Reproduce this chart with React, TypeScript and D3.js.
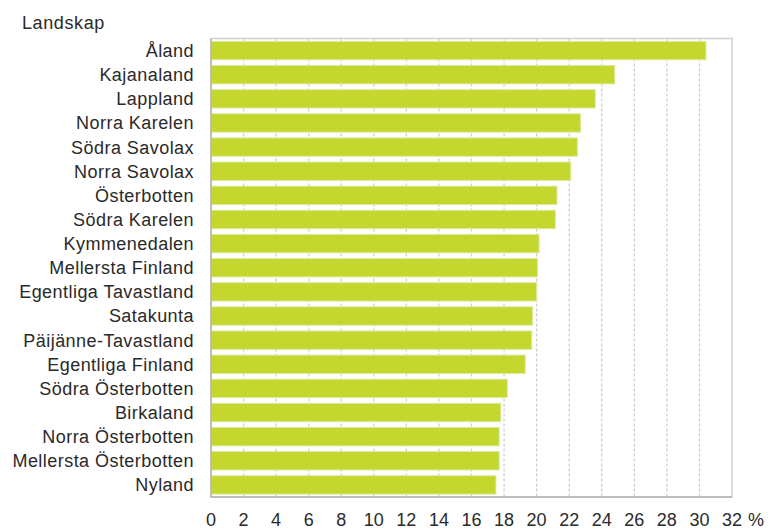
import React, { useEffect, useRef } from 'react'
import * as d3 from 'd3'

const regions = [
  'Åland', 'Kajanaland', 'Lappland', 'Norra Karelen', 'Södra Savolax', 'Norra Savolax',
  'Österbotten', 'Södra Karelen', 'Kymmenedalen', 'Mellersta Finland', 'Egentliga Tavastland',
  'Satakunta', 'Päijänne-Tavastland', 'Egentliga Finland', 'Södra Österbotten', 'Birkaland',
  'Norra Österbotten', 'Mellersta Österbotten', 'Nyland'
]
const shares = [
  30.4, 24.8, 23.6, 22.7, 22.5, 22.1,
  21.25, 21.15, 20.15, 20.05, 20.0,
  19.75, 19.7, 19.3, 18.2, 17.8,
  17.7, 17.7, 17.5
]
const xTicks = [0, 2, 4, 6, 8, 10, 12, 14, 16, 18, 20, 22, 24, 26, 28, 30, 32]

const App = () => {
  const svgRef = useRef<SVGSVGElement>(null)

  useEffect(() => {
    const width = 773
    const height = 530
    const m = { top: 38.5, right: 41, bottom: 33, left: 211 }
    const font = 'Liberation Sans, Arial, sans-serif'

    const svg = d3.select(svgRef.current)
    svg.selectAll('*').remove()
    svg.attr('width', width).attr('height', height)

    const x = d3.scaleLinear().domain([0, 32]).range([m.left, width - m.right])
    const y = d3.scaleBand().domain(regions).range([m.top, height - m.bottom]).paddingInner(0.24).paddingOuter(0.12)

    // frame
    svg.append('rect')
      .attr('x', m.left).attr('y', m.top)
      .attr('width', x(32) - m.left).attr('height', height - m.bottom - m.top)
      .attr('fill', 'white').attr('stroke', '#cfcfcf').attr('stroke-width', 1.5)

    // grid
    svg.selectAll('line.grid')
      .data(xTicks.slice(1, -1))
      .join('line')
      .attr('class', 'grid')
      .attr('x1', d => x(d)).attr('x2', d => x(d))
      .attr('y1', m.top).attr('y2', height - m.bottom)
      .attr('stroke', '#cccccc').attr('stroke-width', 1.2)
      .attr('stroke-dasharray', '3,2')

    // bars
    svg.selectAll('rect.bar')
      .data(shares)
      .join('rect')
      .attr('class', 'bar')
      .attr('x', x(0))
      .attr('y', (d, i) => y(regions[i]) as number)
      .attr('width', d => x(d) - x(0))
      .attr('height', y.bandwidth())
      .attr('fill', '#c3d72f')
      .attr('stroke', '#dde99a').attr('stroke-width', 1)

    // axis lines
    svg.append('line')
      .attr('x1', m.left).attr('x2', m.left)
      .attr('y1', m.top).attr('y2', height - m.bottom)
      .attr('stroke', '#b4b4b4').attr('stroke-width', 1.5)
    svg.append('line')
      .attr('x1', m.left).attr('x2', x(32))
      .attr('y1', height - m.bottom).attr('y2', height - m.bottom)
      .attr('stroke', '#b4b4b4').attr('stroke-width', 1.5)

    // category labels
    svg.selectAll('text.cat')
      .data(regions)
      .join('text')
      .attr('class', 'cat')
      .attr('x', 194)
      .attr('y', d => (y(d) as number) + y.bandwidth() / 2)
      .attr('dy', '0.36em')
      .attr('text-anchor', 'end')
      .style('font-family', font).style('font-size', '18px').style('letter-spacing', '0.45px')
      .attr('fill', '#2a2a2a')
      .text(d => d)

    // tick labels
    svg.selectAll('text.tick')
      .data(xTicks)
      .join('text')
      .attr('class', 'tick')
      .attr('x', d => x(d))
      .attr('y', 526)
      .attr('text-anchor', 'middle')
      .style('font-family', font).style('font-size', '18px').attr('fill', '#2a2a2a')
      .text(d => d)

    svg.append('text')
      .attr('x', 748).attr('y', 526)
      .style('font-family', font).style('font-size', '18px').attr('fill', '#2a2a2a')
      .text('%')

    svg.append('text')
      .attr('x', 22).attr('y', 29)
      .style('font-family', font).style('font-size', '18px').style('letter-spacing', '0.6px')
      .attr('fill', '#2a2a2a')
      .text('Landskap')
  }, [])

  return <svg ref={svgRef} style={{ position: 'absolute', left: 0, top: 0 }}></svg>
}

export default App
